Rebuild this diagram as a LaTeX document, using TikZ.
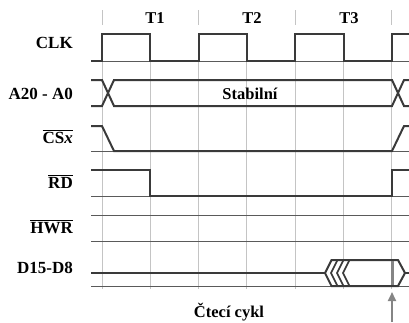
\documentclass[tikz,border=0pt]{standalone}
\usepackage{fontspec}
\setmainfont{Liberation Serif}
\usetikzlibrary{arrows.meta}
\definecolor{sigc}{HTML}{3A3A3A}
\definecolor{basec}{HTML}{5A5A5A}
\definecolor{gridc}{HTML}{C4C4C4}
\definecolor{markc}{HTML}{858585}
\newcommand{\ovl}[1]{$\overline{\hbox{#1}}$}

\begin{document}
\begin{tikzpicture}[x=1pt, y=-1pt,
    lbl/.style={anchor=base east, inner sep=0pt, font=\bfseries\fontsize{17}{19}\selectfont},
    ttl/.style={anchor=base, inner sep=0pt, font=\bfseries\fontsize{16.5}{19}\selectfont},
    wave/.style={line width=2pt, sigc},
    baseln/.style={line width=1pt, basec},
    gridln/.style={line width=1pt, gridc}]
        \useasboundingbox (0,0) rectangle (409,322);
        % grid
        \foreach \k in {0,...,6}
            \draw[gridln] ({102+48.33*\k},34) -- ({102+48.33*\k},289);
        \foreach \k in {0,2,4,6}
            \draw[gridln] ({102+48.33*\k},10) -- ({102+48.33*\k},25);
        \node[ttl] (T1) at (155, 23) {T1};
        \node[ttl] (T2) at (252, 23) {T2};
        \node[ttl] (T3) at (349, 23) {T3};
        \node[lbl] (clk) at (73, 48) {CLK};
        \node[lbl] (adr) at (73, 99) {A20 - A0};
        \node[lbl] (cs) at (73, 143) {\ovl{CS\textit{x}}};
        \node[lbl] (rd) at (73, 188) {\ovl{RD}};
        \node[lbl] (hwr) at (73, 233) {\ovl{HWR}};
        \node[lbl] (data) at (73, 273) {D15-D8};
        % base lines
        \draw[baseln] (91,61) -- (409,61);
        \draw[baseln] (91,151) -- (409,151);
        \draw[baseln] (91,196) -- (409,196);
        \draw[baseln] (91,215) -- (409,215);
        \draw[baseln] (91,241) -- (409,241);
        \draw[baseln] (91,286) -- (409,286);
        % CLK
        \draw[wave] (91,61) -- (102,61) -- (102,34) -- (150.3,34) -- (150.3,61)
            -- (198.7,61) -- (198.7,34) -- (247,34) -- (247,61)
            -- (295.3,61) -- (295.3,34) -- (343.7,34) -- (343.7,61)
            -- (392,61) -- (392,34) -- (410,34);
        % A20 - A0
        \draw[wave] (91,80) -- (102,80) -- (114,106) -- (392,106) -- (404,80) -- (410,80);
        \draw[wave] (91,106) -- (102,106) -- (114,80) -- (392,80) -- (404,106) -- (410,106);
        \node[ttl] (stab) at (250, 99) {Stabilní};
        % CSx
        \draw[wave] (91,126) -- (102,126) -- (114,151) -- (392,151) -- (404,126) -- (410,126);
        % RD
        \draw[wave] (91,170) -- (150.3,170) -- (150.3,196) -- (392,196) -- (392,170) -- (410,170);
        % D15-D8
        \draw[wave] (91,273) -- (325,273);
        \draw[wave, fill=white] (325,273) -- (331.5,260) -- (398,260) -- (405,273)
            -- (398,286) -- (331.5,286) -- cycle;
        \draw[wave] (405,273) -- (410,273);
        \foreach \t in {331,337,343}
            \draw[wave, line width=1.6pt] (\t+6.5,260) -- (\t,273) -- (\t+6.5,286);
        \draw[line width=3pt, markc] (392,261) -- (392,285);
        \node[ttl] (cyc) at (229, 317) {Čtecí cykl};
        \coordinate (foot) at (392,322);
        \coordinate (tip) at (392,292);
        \draw[line width=2pt, markc, -{Triangle[length=9pt,width=8pt]}] (foot) -- (tip);
    \end{tikzpicture}
\end{document}
